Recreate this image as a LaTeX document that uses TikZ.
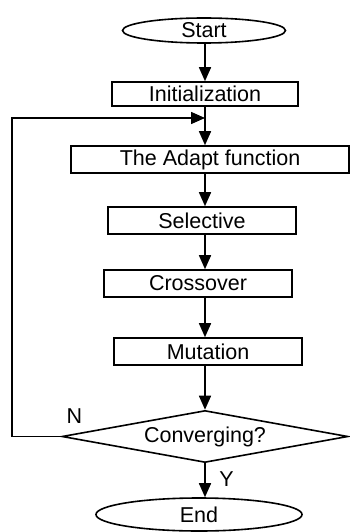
\documentclass[tikz,border=0pt]{standalone}
\usepackage{fontspec}
\setmainfont{Liberation Sans}
\usetikzlibrary{shapes.geometric,arrows.meta}
\begin{document}
\begin{tikzpicture}[x=1pt,y=-1pt,
  every node/.style={font=\fontsize{21.5}{23}\selectfont},
  box/.style={draw,line width=1.6pt,rectangle,inner sep=0pt,minimum height=26pt},
  oval/.style={draw,line width=1.6pt,ellipse,inner sep=0pt},
  arr/.style={line width=1.6pt,-{Triangle[length=14pt,width=12pt]}},
  ln/.style={line width=1.6pt}]
\useasboundingbox (0,0) rectangle (350,532);
\node[oval,minimum width=163pt,minimum height=25pt] (start) at (204,30.5) {Start};
\node[box,minimum width=186pt,minimum height=24pt] (init) at (205,94) {Initialization};
\node[box,minimum width=278pt,minimum height=27pt] (adapt) at (210,159.5) {The Adapt function};
\node[box,minimum width=188pt,minimum height=27pt] (sel) at (202,220.5) {Selective};
\node[box,minimum width=188pt,minimum height=27pt] (cross) at (198,283.5) {Crossover};
\node[box,minimum width=188pt,minimum height=27pt] (mut) at (208,351.5) {Mutation};
\node[draw,line width=1.6pt,diamond,aspect=5.5,inner sep=0pt,minimum width=286pt,minimum height=52pt] (conv) at (205,436.5) {Converging?};
\node[oval,minimum width=206pt,minimum height=33pt] (end) at (199,514.5) {End};
\node (nlab) at (74.5,416.5) {N};
\node (ylab) at (226.5,479) {Y};
\coordinate (fb) at (205,118);
\coordinate (lc) at (12,436.5);
\draw[arr] (start.south -| fb) -- (init.north -| fb);
\draw[arr] (init.south -| fb) -- (adapt.north -| fb);
\draw[arr] (conv.west) -- (lc) |- (fb);
\draw[arr] (adapt.south -| fb) -- (sel.north -| fb);
\draw[arr] (sel.south -| fb) -- (cross.north -| fb);
\draw[arr] (cross.south -| fb) -- (mut.north -| fb);
\draw[arr] (mut.south -| fb) -- (conv.north);
\draw[arr] (conv.south) -- (end.north -| fb);
\end{tikzpicture}
\end{document}
